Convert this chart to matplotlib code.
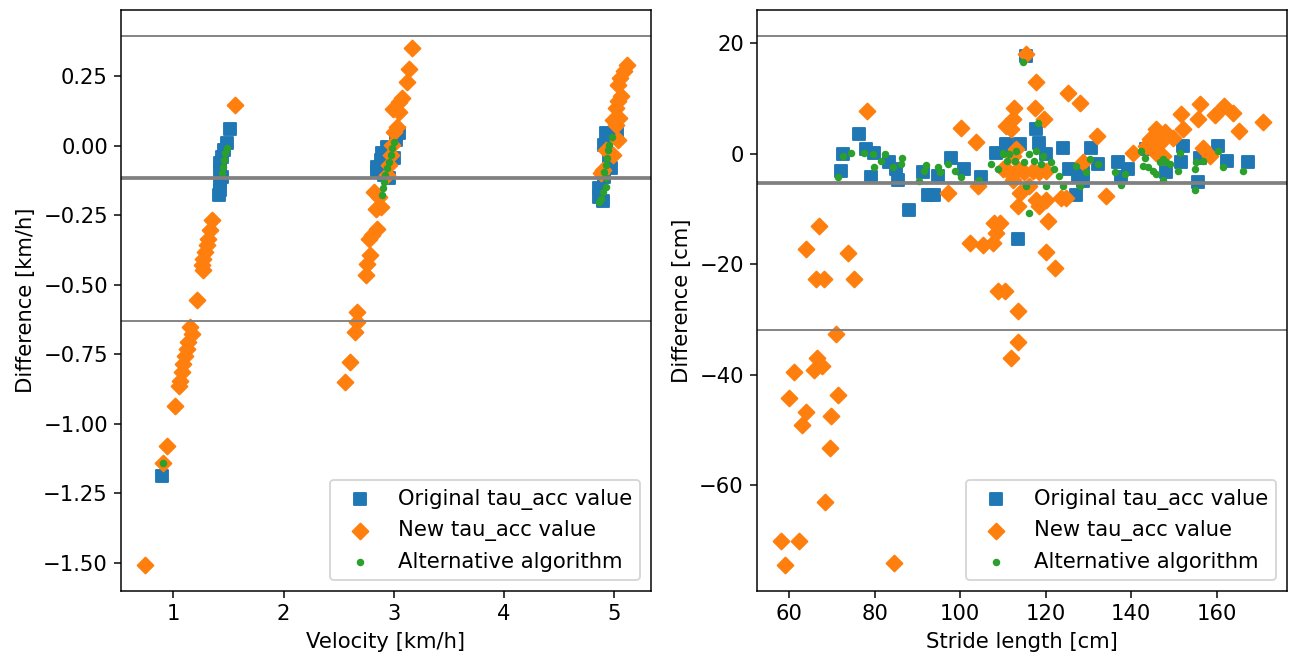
import numpy as np
import matplotlib
matplotlib.use("Agg")
import matplotlib.pyplot as plt

plt.rcParams["font.size"] = 11.3

# ---- left panel: velocity [km/h] vs difference [km/h] ----
vel_orig_x = [0.895, 1.515, 1.485, 1.455, 1.44, 1.425, 1.425, 1.44, 1.425, 1.425, 1.41,
              3.045, 3.015, 2.94, 2.895, 2.879, 2.849, 2.849, 2.909, 2.955, 3.0,
              4.924, 5.024, 4.909, 4.955, 4.97, 4.909, 4.864, 4.864, 4.895]
vel_orig_y = [-1.188, 0.061, 0.009, -0.015, -0.039, -0.063, -0.087, -0.111, -0.135, -0.160, -0.178,
              0.045, 0.021, -0.003, -0.027, -0.051, -0.075, -0.093, -0.105, -0.117, -0.045,
              0.045, 0.045, 0.003, -0.045, -0.081, -0.111, -0.153, -0.183, -0.199]

vel_new_x = [1.563, 1.349, 1.334, 1.318, 1.303, 1.288, 1.272, 1.257, 1.272, 1.218,
             1.152, 1.167, 1.136, 1.122, 1.106, 1.091, 1.076, 1.061, 1.055,
             1.015, 0.94, 0.909, 0.743,
             3.161, 3.136, 3.115, 3.076, 3.045, 2.995, 3.045, 3.025, 3.005, 2.985, 2.97, 2.955,
             2.94, 2.818, 2.864, 2.879, 2.834, 2.849, 2.804, 2.773, 2.788, 2.758, 2.743,
             2.667, 2.667, 2.643, 2.6, 2.561,
             5.115, 5.085, 5.055, 5.036, 5.061, 5.036, 5.015, 5.045, 4.985, 5.015, 5.03,
             4.924, 4.985, 4.895, 4.879]
vel_new_y = [0.147, -0.268, -0.304, -0.334, -0.358, -0.382, -0.406, -0.430, -0.448, -0.553,
             -0.653, -0.677, -0.707, -0.731, -0.755, -0.785, -0.815, -0.845, -0.864,
             -0.936, -1.080, -1.140, -1.507,
             0.352, 0.277, 0.229, 0.171, 0.157, 0.133, 0.121, 0.069, 0.051, 0.003, -0.033, -0.069,
             -0.105, -0.165, -0.183, -0.220, -0.226, -0.298, -0.322, -0.336, -0.394, -0.424, -0.466,
             -0.599, -0.635, -0.671, -0.779, -0.851,
             0.292, 0.268, 0.244, 0.219, 0.181, 0.160, 0.135, 0.099, 0.093, 0.075, 0.021,
             -0.015, -0.033, -0.087, -0.096]

vel_alt_x = [0.909, 1.485, 1.47, 1.455, 1.449, 1.44,
             3.0, 2.985, 2.97, 2.955, 2.94, 2.924, 2.909, 2.904, 2.895,
             4.976, 4.955, 4.94, 4.934, 4.924, 4.909, 4.924, 4.924, 4.895, 4.879, 4.864]
vel_alt_y = [-1.14, -0.006, -0.027, -0.051, -0.075, -0.099,
             0.015, -0.009, -0.033, -0.057, -0.081, -0.105, -0.129, -0.153, -0.178,
             0.033, 0.003, -0.015, -0.045, -0.069, -0.093, -0.117, -0.147, -0.165, -0.190, -0.201]

vel_limits = [0.394, -0.115, -0.631]  # upper LoA, mean, lower LoA

# ---- right panel: stride length [cm] vs difference [cm] ----
sl_orig_x = [76.4, 72.5, 78.0, 79.9, 72.1, 79.2, 83.4, 85.0, 85.4, 88.0, 91.2, 92.4, 93.9,
             97.8, 100.9, 104.8, 108.3, 110.7, 94.8, 115.4, 117.8, 118.5, 124.0, 130.6,
             120.1, 110.7, 113.9, 132.2, 128.6, 127.1, 125.5, 127.5, 128.6, 136.9, 139.3,
             137.7, 143.5, 152.1, 148.2, 151.7, 156.0, 155.6, 160.3, 162.3, 167.3, 113.4]
sl_orig_y = [3.5, -0.1, 0.8, 0.2, -3.1, -4.2, -1.6, -2.8, -4.7, -10.2, -3.4, -7.5, -7.4,
             -0.7, -2.7, -4.2, 0.2, 1.7, -4.1, 17.7, 4.4, 2.0, 1.1, 1.1,
             -0.1, 1.4, 1.7, -1.9, -3.4, -7.4, -2.8, -4.3, -4.9, -1.6, -2.8,
             -4.3, 0.8, 1.4, -3.4, -1.6, -0.7, -5.2, 1.4, -1.3, -1.6, -15.5]

sl_new_x = [63.9, 73.7, 66.3, 68.2, 75.2, 70.9, 66.6, 67.7, 65.8, 61.2, 60.0, 71.3, 63.9,
            63.1, 69.8, 69.5, 68.4, 58.1, 62.3, 59.1, 84.6, 78.3, 67.0,
            100.2, 103.6, 97.1, 104.1, 108.0, 102.2, 105.3, 107.6, 108.4, 108.8,
            110.4, 113.4, 113.6, 111.8, 120.0, 122.1,
            115.4, 117.8, 125.1, 127.9, 112.5, 117.6, 119.7, 112.3, 111.9, 132.0, 110.8,
            156.0, 151.7, 161.6, 163.9, 159.5, 155.7, 170.8, 165.2, 152.1, 145.9, 148.0,
            144.3, 146.7, 149.8, 143.5, 145.9, 140.4, 156.8, 158.4, 147.4,
            134.2, 120.5, 117.7, 120.0, 123.6, 124.7, 118.4, 113.5, 112.3, 113.9, 116.2,
            113.1, 112.3, 115.0, 117.0, 118.5, 120.1, 111.5, 113.5, 109.9, 128.6, 109.2]
sl_new_y = [-17.3, -17.9, -22.6, -22.6, -22.6, -32.7, -36.9, -38.4, -39.2, -39.5, -44.2, -43.6, -46.8,
            -49.0, -47.4, -53.2, -62.9, -70.1, -70.1, -74.3, -74.0, 7.7, -13.1,
            4.7, 2.1, -7.1, -5.9, -12.5, -16.2, -16.6, -16.1, -14.3, -24.9,
            -24.9, -28.5, -34.0, -36.9, -17.7, -20.6,
            18.0, 12.9, 11.0, 9.1, 8.3, 8.3, 6.3, 6.2, 4.4, 3.1, 5.0,
            8.9, 7.1, 8.7, 7.4, 6.9, 6.2, 5.7, 4.1, 4.4, 4.4, 4.0,
            2.6, 2.0, 2.9, 1.4, 0.2, 0.2, 1.1, -0.4, -0.4,
            -7.7, -12.2, -8.3, -8.3, -8.0, -8.0, -9.5, -9.5, -4.7, -7.1, -5.9,
            0.8, -0.4, -3.4, -3.1, -3.4, -3.1, -3.4, -2.8, -2.8, -1.6, -12.5]

sl_alt_x = [72.5, 71.3, 74.4, 77.6, 79.5, 82.3, 81.5, 79.9, 84.2, 86.5, 86.2, 92.0, 91.6,
            94.8, 95.2, 97.1, 98.7, 100.2, 104.5, 107.2, 108.8, 109.9, 90.4,
            114.6, 118.2, 110.0, 111.5, 113.1, 116.2, 117.8, 119.3,
            111.0, 112.9, 114.9, 117.2, 118.8, 121.2, 122.0,
            115.4, 116.2, 120.1, 123.2, 124.0, 127.1, 127.9, 129.5, 130.3, 132.2,
            136.1, 138.5, 137.7, 142.3, 143.1, 142.7, 143.9, 145.1, 145.9,
            147.4, 148.2, 146.7, 147.4, 149.0, 150.9, 151.3, 154.8, 155.2, 156.8,
            154.8, 160.3, 161.5, 166.2]
sl_alt_y = [-0.4, -4.2, 0.2, 0.2, -0.1, -0.1, -1.3, -2.4, -2.5, -0.7, -1.9, -2.1, -3.1,
            -2.5, -3.4, -1.8, -3.1, -4.2, -4.8, -1.8, -2.8, -0.1, -5.0,
            16.5, 5.6, 0.2, -0.1, 0.5, -0.1, 0.5, -0.4,
            -1.3, -1.3, -1.6, -1.3, -1.9, -1.6, -2.8,
            -5.9, -10.7, -5.9, -4.1, -5.9, -2.2, -5.9, -3.4, -1.0, -1.8,
            -3.4, -3.7, -5.6, 0.5, -0.7, -2.2, -2.5, -3.1, -3.7,
            -1.0, -1.6, -1.6, -4.7, -1.9, -3.1, 0.2, -2.8, -1.6, -1.3,
            -6.5, 0.5, -2.5, -3.1]

sl_limits = [21.2, -5.3, -31.8]

labels = ["Original tau_acc value", "New tau_acc value", "Alternative algorithm"]

fig = plt.figure(figsize=(1290 / 135, 657 / 135), dpi=135)
ax1 = fig.add_axes([0.0938, 0.1005, 0.4109, 0.8843])
ax2 = fig.add_axes([0.5868, 0.1005, 0.4109, 0.8843])


def bland_altman(ax, ox, oy, nx, ny, ax_, ay, limits, xlabel, ylabel):
    ax.scatter(ox, oy, marker="s", color="tab:blue", label=labels[0])
    ax.scatter(nx, ny, marker="D", color="tab:orange", label=labels[1])
    ax.scatter(ax_, ay, marker=".", color="tab:green", label=labels[2])
    ax.axhline(limits[0], color="gray", lw=1)
    ax.axhline(limits[1], color="gray", lw=2)
    ax.axhline(limits[2], color="gray", lw=1)
    # include the limit lines in the y range (5% margin)
    lo = min(min(oy), min(ny), min(ay), limits[2])
    hi = max(max(oy), max(ny), max(ay), limits[0])
    pad = 0.05 * (hi - lo)
    ax.set_ylim(lo - pad, hi + pad)
    ax.set_xlabel(xlabel)
    ax.set_ylabel(ylabel)
    ax.legend(loc="lower right")


bland_altman(ax1, vel_orig_x, vel_orig_y, vel_new_x, vel_new_y, vel_alt_x, vel_alt_y,
             vel_limits, "Velocity [km/h]", "Difference [km/h]")
bland_altman(ax2, sl_orig_x, sl_orig_y, sl_new_x, sl_new_y, sl_alt_x, sl_alt_y,
             sl_limits, "Stride length [cm]", "Difference [cm]")

fig.savefig("out.png", dpi=135)
